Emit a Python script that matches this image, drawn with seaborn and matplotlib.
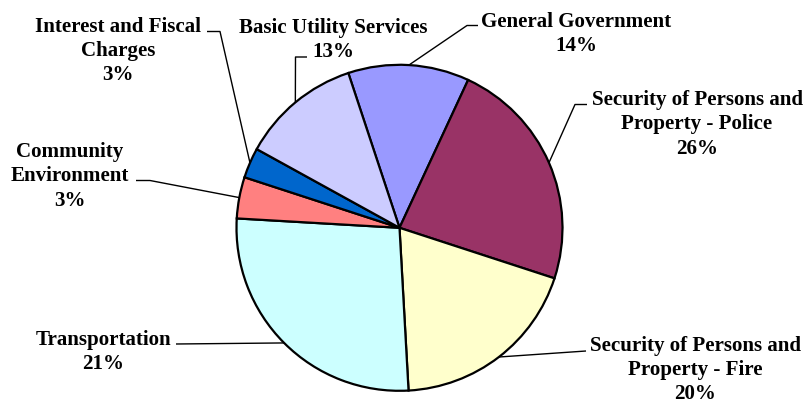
# city expenditure pie, excel style labels

import numpy as np
import matplotlib
matplotlib.use('Agg')
import matplotlib.pyplot as plt
import seaborn as sns

# slice sizes as drawn (clockwise from the top)
categories = [
    'General Government',
    'Security of Persons and Property - Police',
    'Security of Persons and Property - Fire',
    'Transportation',
    'Community Environment',
    'Interest and Fiscal Charges',
    'Basic Utility Services',
]
slice_sizes = [12.0, 23.1, 19.1, 26.8, 4.1, 3.0, 11.9]
pct_labels = ['14%', '26%', '20%', '21%', '3%', '3%', '13%']
label_lines = [
    ['General Government'],
    ['Security of Persons and', 'Property - Police'],
    ['Security of Persons and', 'Property - Fire'],
    ['Transportation'],
    ['Community', 'Environment'],
    ['Interest and Fiscal', 'Charges'],
    ['Basic Utility Services'],
]
colors = ['#9999FF', '#993366', '#FFFFCC', '#CCFFFF', '#FF8080', '#0066CC', '#CCCCFF']

sns.set_style('white')
plt.rcParams['font.family'] = ['Liberation Serif', 'DejaVu Serif']

W, H = 808, 403
fig = plt.figure(figsize=(W / 100, H / 100), dpi=100)
ax = fig.add_axes([0, 0, 1, 1])

# work in pixel coords, y measured from the top
def py(y):
    return H - y

cx, cy, r = 399.5, 227.8, 163

wedges, _ = ax.pie(slice_sizes, colors=colors, startangle=108.3, counterclock=False,
                   center=(cx, py(cy)), radius=r,
                   wedgeprops=dict(edgecolor='black', linewidth=1.6))

# label placement: (center x, first baseline y) and leader elbow points
label_pos = [(576, 26.7), (697, 105), (695, 350.5), (103, 345), (70, 157), (118, 31.5), (333, 32.7)]
leader_pts = [
    [(467, 25.5), (478, 25.5)],
    [(575, 104.5), (587, 104.5)],
    [(586, 351)],
    [(176, 344)],
    [(150, 180.5), (136, 180.5)],
    [(220, 31.5), (207, 31.5)],
    [(295.5, 57), (307, 57)],
]

step = 24.3
for w, lines, pct, (tx, ty), pts in zip(wedges, label_lines, pct_labels, label_pos, leader_pts):
    mid = np.deg2rad((w.theta1 + w.theta2) / 2)
    ex = cx + r * np.cos(mid)
    ey = py(cy) + r * np.sin(mid)
    xs = [ex] + [p[0] for p in pts]
    ys = [ey] + [py(p[1]) for p in pts]
    ax.plot(xs, ys, color='black', linewidth=1.0, solid_capstyle='butt', zorder=0.5)
    for i, txt in enumerate(lines + [pct]):
        ax.text(tx, py(ty + i * step), txt, ha='center', va='baseline',
                fontsize=15.1, fontweight='bold', color='black')

ax.set_xlim(0, W)
ax.set_ylim(0, H)
ax.set_aspect('auto')
ax.axis('off')

plt.savefig('out.png', dpi=100)
